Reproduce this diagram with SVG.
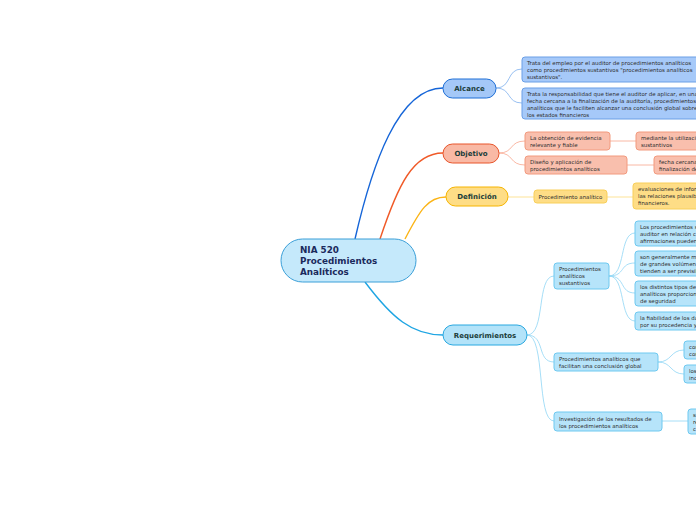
<svg xmlns="http://www.w3.org/2000/svg" width="696" height="520" viewBox="0 0 696 520">
<style>
text{font-family:"DejaVu Sans","Verdana",sans-serif}
.t{font-size:5.45px;fill:#2e2e2e}
.m{font-size:7px;font-weight:bold;fill:#1b3d3a;text-anchor:middle}
.c{fill:none}
.bA{fill:#a6c9f9;stroke:#6b9fe6;stroke-width:1}
.bO{fill:#f9bfad;stroke:#f29a7e;stroke-width:1}
.bD{fill:#fedd86;stroke:#f8cf5a;stroke-width:1}
.bR{fill:#b6e4fa;stroke:#6ec9f0;stroke-width:1}
</style>
<rect width="696" height="520" fill="#fff"/>
<g id="connectors">
<path class="c" d="M355,239 C372,165 398,88 443,88" stroke="#1565d8" stroke-width="1.4"/>
<path class="c" d="M380,239 C398,185 413,153 443,153" stroke="#f05a28" stroke-width="1.4"/>
<path class="c" d="M405,239 C420,210 428,197 446,197" stroke="#fbb416" stroke-width="1.4"/>
<path class="c" d="M365,282 C392,318 412,335 443,335" stroke="#1ea5e3" stroke-width="1.4"/>
<g stroke="#7fb0ee" stroke-width="0.8">
<path class="c" d="M496,88 C512,88 506,69 522,69"/>
<path class="c" d="M496,88 C512,88 506,103 522,103"/>
</g>
<g stroke="#f7a68e" stroke-width="0.8">
<path class="c" d="M499,153 C514,153 509,141 525,141"/>
<path class="c" d="M499,153 C514,153 509,165 525,165"/>
<path class="c" d="M610,141 L636,141"/>
<path class="c" d="M627,165 L654,165"/>
</g>
<g stroke="#fde8a8" stroke-width="1.2">
<path class="c" d="M508,197 L534,197"/>
<path class="c" d="M607,197 L633,197"/>
</g>
<g stroke="#8fd5f5" stroke-width="0.8">
<path class="c" d="M527,335 C546,335 536,276 554,276"/>
<path class="c" d="M527,335 C546,335 536,362 554,362"/>
<path class="c" d="M527,335 C546,335 536,421 554,421"/>
<path class="c" d="M609,276 C626,276 619,233 635,233"/>
<path class="c" d="M609,276 C626,276 619,263 635,263"/>
<path class="c" d="M609,276 C626,276 619,293 635,293"/>
<path class="c" d="M609,276 C626,276 619,321 635,321"/>
<path class="c" d="M658,362 C672,362 670,350 684,350"/>
<path class="c" d="M658,362 C672,362 670,374 684,374"/>
<path class="c" d="M662,421 L688,421"/>
</g>
</g>
<g id="root">
<rect x="281" y="239" width="135" height="43" rx="21.5" fill="#c5e9fb" stroke="#3a9fd8" stroke-width="1"/>
<text x="300" y="253" font-size="8.8" font-weight="bold" fill="#1b2a5c">NIA 520</text>
<text x="300" y="264" font-size="8.8" font-weight="bold" fill="#1b2a5c">Procedimientos</text>
<text x="300" y="275" font-size="8.8" font-weight="bold" fill="#1b2a5c">Analíticos</text>
</g>
<g id="alcance">
<rect x="443" y="79" width="53" height="19" rx="9.5" fill="#a4c8f8" stroke="#1f6fd6" stroke-width="1"/>
<text class="m" x="469.5" y="91">Alcance</text>
</g>
<g id="alcance-1">
<rect class="bA" x="522" y="57" width="190" height="25" rx="3"/>
<text class="t" x="527" y="65">Trata del empleo por el auditor de procedimientos analíticos</text>
<text class="t" x="527" y="72">como procedimientos sustantivos "procedimientos analíticos</text>
<text class="t" x="527" y="79">sustantivos".</text>
</g>
<g id="alcance-2">
<rect class="bA" x="522" y="88" width="190" height="31" rx="3"/>
<text class="t" x="527" y="96">Trata la responsabilidad que tiene el auditor de aplicar, en una</text>
<text class="t" x="527" y="103">fecha cercana a la finalización de la auditoría, procedimientos</text>
<text class="t" x="527" y="110">analíticos que le faciliten alcanzar una conclusión global sobre</text>
<text class="t" x="527" y="117">los estados financieros</text>
</g>
<g id="objetivo">
<rect x="443" y="144" width="56" height="19" rx="9.5" fill="#f9b9a5" stroke="#e8542a" stroke-width="1"/>
<text class="m" x="471" y="156">Objetivo</text>
</g>
<g id="objetivo-1">
<rect class="bO" x="525" y="132" width="85" height="18" rx="3"/>
<text class="t" x="530" y="140">La obtención de evidencia</text>
<text class="t" x="530" y="147">relevante y fiable</text>
</g>
<g id="objetivo-1-1">
<rect class="bO" x="636" y="132" width="80" height="18" rx="3"/>
<text class="t" x="641" y="140">mediante la utilización</text>
<text class="t" x="641" y="147">sustantivos</text>
</g>
<g id="objetivo-2">
<rect class="bO" x="525" y="156" width="102" height="18" rx="3"/>
<text class="t" x="530" y="164">Diseño y aplicación de</text>
<text class="t" x="530" y="171">procedimientos analíticos</text>
</g>
<g id="objetivo-2-1">
<rect class="bO" x="654" y="156" width="60" height="18" rx="3"/>
<text class="t" x="659" y="164">fecha cercana</text>
<text class="t" x="659" y="171">finalización de</text>
</g>
<g id="definicion">
<rect x="446" y="187" width="62" height="19" rx="9.5" fill="#fedd86" stroke="#f6b400" stroke-width="1"/>
<text class="m" x="477" y="199">Definición</text>
</g>
<g id="definicion-1">
<rect class="bD" x="534" y="190" width="73" height="13" rx="3"/>
<text class="t" x="570.5" y="199" text-anchor="middle">Procedimiento analítico</text>
</g>
<g id="definicion-1-1">
<rect class="bD" x="633" y="183" width="80" height="26" rx="3"/>
<text class="t" x="638" y="191">evaluaciones de información</text>
<text class="t" x="638" y="198">las relaciones plausibles</text>
<text class="t" x="638" y="205">financieros.</text>
</g>
<g id="requerimientos">
<rect x="443" y="325" width="84" height="20" rx="10" fill="#b3e3f9" stroke="#29a8e0" stroke-width="1"/>
<text class="m" x="485" y="338">Requerimientos</text>
</g>
<g id="req-1">
<rect class="bR" x="554" y="263" width="55" height="26" rx="3"/>
<text class="t" x="559" y="271">Procedimientos</text>
<text class="t" x="559" y="278">analíticos</text>
<text class="t" x="559" y="285">sustantivos</text>
</g>
<g id="req-1-1">
<rect class="bR" x="635" y="221" width="80" height="25" rx="3"/>
<text class="t" x="640" y="229">Los procedimientos sustantivos</text>
<text class="t" x="640" y="236">auditor en relación con</text>
<text class="t" x="640" y="243">afirmaciones pueden</text>
</g>
<g id="req-1-2">
<rect class="bR" x="635" y="251" width="80" height="25" rx="3"/>
<text class="t" x="640" y="259">son generalmente más</text>
<text class="t" x="640" y="266">de grandes volúmenes</text>
<text class="t" x="640" y="273">tienden a ser previsibles</text>
</g>
<g id="req-1-3">
<rect class="bR" x="635" y="281" width="80" height="25" rx="3"/>
<text class="t" x="640" y="289">los distintos tipos de</text>
<text class="t" x="640" y="296">analíticos proporcionan</text>
<text class="t" x="640" y="303">de seguridad</text>
</g>
<g id="req-1-4">
<rect class="bR" x="635" y="312" width="80" height="18" rx="3"/>
<text class="t" x="640" y="320">la fiabilidad de los datos</text>
<text class="t" x="640" y="327">por su procedencia y</text>
</g>
<g id="req-2">
<rect class="bR" x="554" y="353" width="104" height="18" rx="3"/>
<text class="t" x="559" y="361">Procedimientos analíticos que</text>
<text class="t" x="559" y="368">facilitan una conclusión global</text>
</g>
<g id="req-2-1">
<rect class="bR" x="684" y="341" width="40" height="18" rx="3"/>
<text class="t" x="689" y="349">con</text>
<text class="t" x="689" y="356">con</text>
</g>
<g id="req-2-2">
<rect class="bR" x="684" y="365" width="40" height="18" rx="3"/>
<text class="t" x="689" y="373">los</text>
<text class="t" x="689" y="380">inc</text>
</g>
<g id="req-3">
<rect class="bR" x="554" y="412" width="108" height="19" rx="3"/>
<text class="t" x="559" y="421">Investigación de los resultados de</text>
<text class="t" x="559" y="428">los procedimientos analíticos</text>
</g>
<g id="req-3-1">
<rect class="bR" x="688" y="409" width="40" height="25" rx="3"/>
<text class="t" x="693" y="417">si</text>
<text class="t" x="693" y="424">re</text>
<text class="t" x="693" y="431">co</text>
</g>
</svg>
